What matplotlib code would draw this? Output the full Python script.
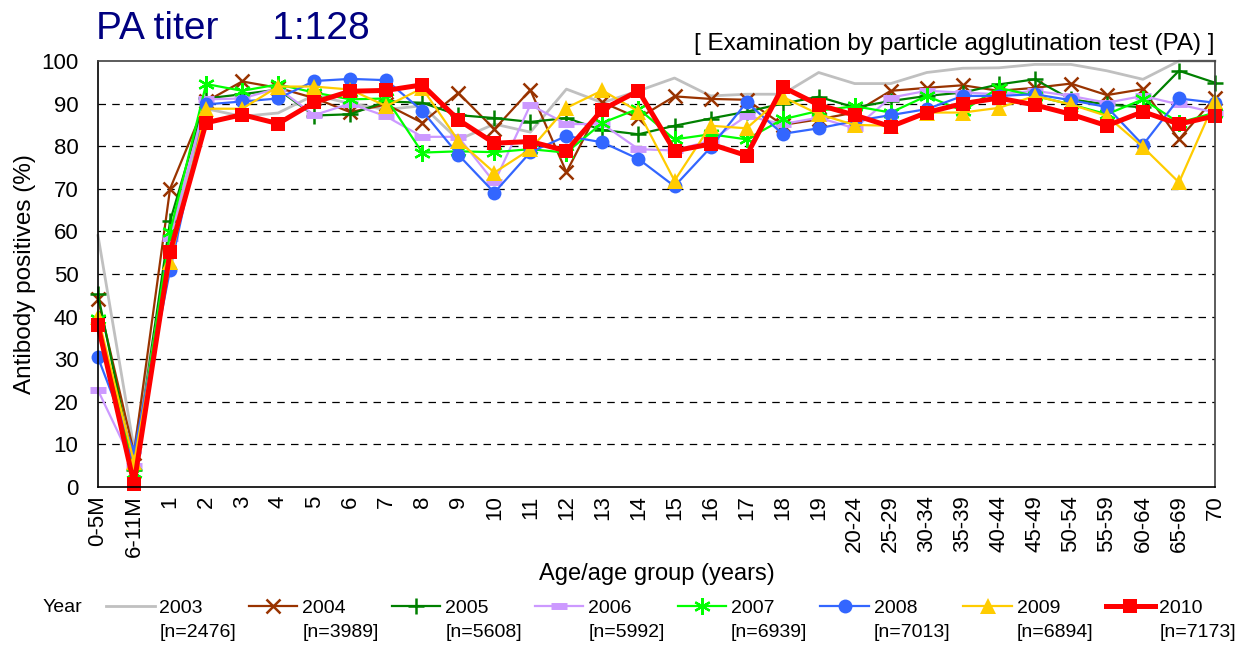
import matplotlib
matplotlib.use("Agg")
import matplotlib.pyplot as plt

plt.rcParams['font.family'] = ['Liberation Sans', 'DejaVu Sans']

categories = ['0-5M', '6-11M', '1', '2', '3', '4', '5', '6', '7', '8', '9', '10',
              '11', '12', '13', '14', '15', '16', '17', '18', '19', '20-24', '25-29',
              '30-34', '35-39', '40-44', '45-49', '50-54', '55-59', '60-64', '65-69', '70']

y2003 = [59, 9, 58, 88.8, 87, 87.8, 92, 90, 88.6, 89.5, 81.5, 85.2, 83.3, 93.4, 90.2, 93, 96,
         91.8, 92.2, 92.2, 97.3, 94.7, 94.7, 97.3, 98.3, 98.4, 99.2, 99.2, 97.7, 95.7, 100, 100]
y2004 = [44.1, 8, 70, 90.5, 95.2, 93.7, 91.3, 88, 89.8, 85.5, 92.5, 84, 93.2, 73.9, 90.3, 86.6,
         91.7, 91.1, 90.9, 85, 86.3, 87.9, 93, 93.7, 94.3, 93, 93.7, 94.7, 92, 93.4, 81.6, 91.4]
y2005 = [45.2, 4, 62.4, 91.2, 92.2, 93.3, 87.2, 87.5, 90.5, 90.2, 87.3, 86.6, 85.7, 86.6, 83.8,
         82.8, 84.8, 86.5, 88.1, 90.0, 91.6, 89.1, 90.6, 91.8, 92.6, 94.5, 95.7, 91, 89.8, 89.1, 97.7, 94.9]
y2006 = [22.7, 5, 58.5, 91, 91.2, 93.6, 87.3, 90, 87, 82.2, 82.2, 71.5, 89.7, 85.2, 85.2, 79.3,
         79, 81.3, 87.1, 85.2, 86.7, 84.2, 91.4, 93, 92.6, 92.2, 93, 91.8, 90.2, 91.8, 89.8, 87.9]
y2007 = [39.5, 3.4, 59.8, 94.6, 93, 94.5, 92.6, 91, 91.2, 78.5, 78.8, 78.6, 79.3, 78.5, 85.5,
         88.8, 81.6, 82.8, 81.6, 86.3, 88.3, 89.4, 87.9, 91.8, 88.3, 93.7, 91.8, 89.8, 87.5, 91, 85.5, 87.9]
y2008 = [30.4, 8.3, 50.9, 89.8, 90.5, 91.2, 95.3, 95.8, 95.5, 88.3, 78, 69.1, 78.6, 82.4, 80.9,
         77, 70.6, 79.7, 90.3, 82.9, 84.2, 85.9, 87.3, 88.7, 91.8, 91.8, 92.2, 90.8, 89.2, 80.3, 91.2, 90.2]
y2009 = [40, 5.8, 52.8, 88.8, 88.8, 94, 94, 93.3, 89.4, 93.6, 81.3, 73.8, 79.3, 89, 93.1, 88.1,
         71.9, 84.8, 84.2, 91.6, 87.5, 85, 84.8, 87.9, 87.9, 89, 91.8, 89.8, 87.1, 79.8, 71.5, 90.6]
y2010 = [38, 0.7, 55.2, 85.5, 87.4, 85.3, 90.3, 92.9, 93.1, 94.4, 86.2, 80.7, 81.1, 78.9, 88.6,
         93, 78.9, 80.5, 77.8, 93.9, 89.7, 87.3, 84.6, 87.9, 90, 91.3, 89.7, 87.5, 84.8, 88.1, 85.2, 87.1]

years = ['2003', '2004', '2005', '2006', '2007', '2008', '2009', '2010']
n_labels = ['[n=2476]', '[n=3989]', '[n=5608]', '[n=5992]', '[n=6939]', '[n=7013]', '[n=6894]', '[n=7173]']
series = [y2003, y2004, y2005, y2006, y2007, y2008, y2009, y2010]

styles = [
    dict(color='#C0C0C0', lw=2.0, marker=None),
    dict(color='#993300', lw=1.6, marker='x', ms=10, mew=1.8),
    dict(color='#008000', lw=1.6, marker='+', ms=12, mew=1.8),
    dict(color='#CC99FF', lw=1.6, marker='_', ms=11, mew=5),
    dict(color='#00FF00', lw=1.6, marker=(6, 2, 0), ms=12, mew=1.6),
    dict(color='#3366FF', lw=1.6, marker='o', ms=10, mew=0),
    dict(color='#FFCC00', lw=1.6, marker='^', ms=11, mew=0),
    dict(color='#FF0000', lw=3.6, marker='s', ms=10.5, mew=0),
]

W, H = 1249, 648
fig = plt.figure(figsize=(W / 100, H / 100), dpi=100)
ax = fig.add_axes([98 / W, 1 - 487 / H, (1215 - 98) / W, (487 - 61) / H])

x = list(range(len(categories)))
handles = []
for yr, vals, st in zip(years, series, styles):
    kw = dict(color=st['color'], lw=st['lw'], clip_on=False, label=yr)
    if st['marker'] is not None:
        kw.update(marker=st['marker'], markersize=st['ms'], markeredgewidth=st['mew'],
                  markerfacecolor=st['color'], markeredgecolor=st['color'])
    h, = ax.plot(x, vals, **kw)
    handles.append(h)

ax.set_xlim(0, len(categories) - 1)
ax.set_ylim(0, 100)
ax.set_yticks(range(0, 101, 10))
ax.set_xticks(x)
ax.set_xticklabels(categories, rotation=90, fontsize=16)
ax.tick_params(axis='y', labelsize=16, length=0, pad=14)
ax.tick_params(axis='x', length=0, pad=6)
for v in range(10, 100, 10):
    ax.axhline(v, color='black', lw=0.9, ls=(0, (6, 5)), zorder=0)
for s in ['left', 'bottom']:
    ax.spines[s].set_color('black')
    ax.spines[s].set_linewidth(1.2)
for s in ['top', 'right']:
    ax.spines[s].set_color('#404040')
    ax.spines[s].set_linewidth(1.2)

ax.set_ylabel('Antibody positives (%)', fontsize=17.5, labelpad=4)
ax.set_xlabel('Age/age group (years)', fontsize=17, labelpad=4)

fig.text(96 / W, 1 - 29 / H, 'PA titer     1:128', fontsize=28, color='#000080',
         ha='left', va='center')
fig.text(1214 / W, 1 - 44 / H, '[ Examination by particle agglutination test (PA) ]',
         fontsize=17.5, ha='right', va='center')

fig.text(43 / W, 1 - 608 / H, 'Year', fontsize=14, ha='left', va='center')
leg = fig.legend(handles=handles, labels=years, loc='center left',
                 bbox_to_anchor=(106 / W, 1 - 608 / H), ncol=8, frameon=False,
                 fontsize=14, handlelength=2.5, handletextpad=0.25,
                 columnspacing=2.36, borderpad=0, borderaxespad=0)
fig.canvas.draw()
renderer = fig.canvas.get_renderer()
for t, nl in zip(leg.get_texts(), n_labels):
    bb = t.get_window_extent(renderer)
    fig.text(bb.x0 / W, (bb.y0 - 16) / H, nl, fontsize=14, ha='left', va='center')

fig.savefig('out.png', dpi=100)
